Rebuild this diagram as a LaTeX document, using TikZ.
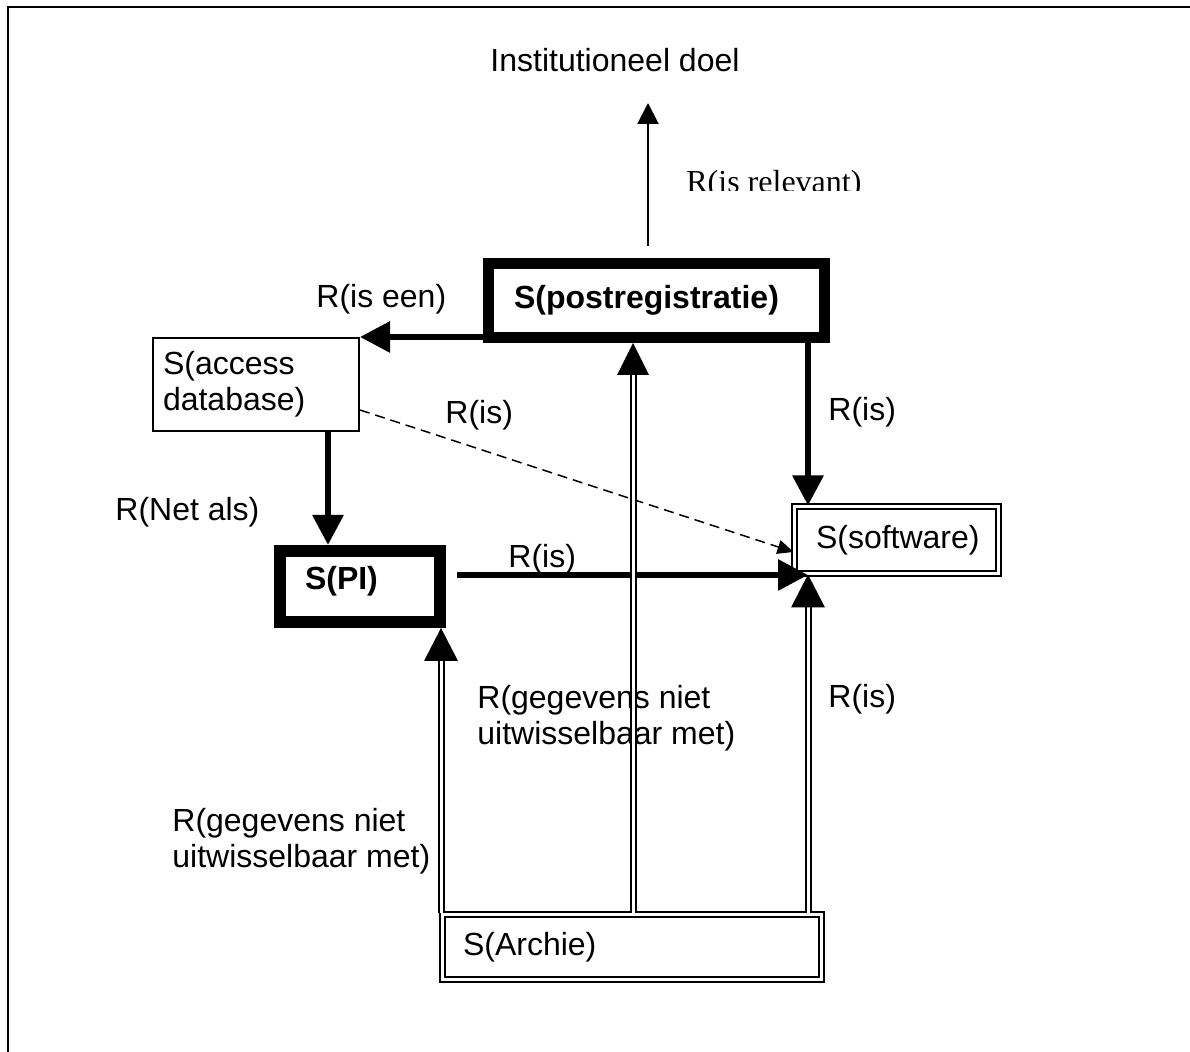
\documentclass[tikz,border=0pt]{standalone}
\usepackage{fontspec}
\setmainfont{Liberation Sans}
\newfontfamily\timesfam{Liberation Serif}
\usetikzlibrary{arrows.meta,calc}
\begin{document}
\begin{tikzpicture}[x=0.5pt,y=-0.5pt,
  every node/.style={font=\fontsize{16}{18}\selectfont, inner sep=0pt},
  heavybox/.style={draw, line width=5.5pt, align=left, font=\fontsize{16}{18}\selectfont\bfseries},
  plainbox/.style={draw, line width=1pt, align=left},
  dblbox/.style={draw, line width=1pt, double, double distance=1.5pt, align=left},
  lbl/.style={anchor=base west, align=left},
  thinarrow/.style={line width=1pt, -{Triangle[length=10.5pt,width=10.5pt]}},
  heavyarrow/.style={line width=3pt, -{Triangle[length=15pt,width=15pt]}},
  dasharrow/.style={line width=0.75pt, dash pattern=on 5pt off 3pt, -{Triangle[length=8pt,width=7pt]}},
  dblshaft/.style={line width=1pt, double, double distance=1.5pt},
]
\useasboundingbox (0,0) rectangle (1190,1052);
% frame
\draw[line width=1.25pt] (8,1052) -- (8,7) -- (1190,7);

% boxes
\node[heavybox, minimum width=168pt, minimum height=37pt, text width=142.5pt, inner xsep=12.75pt] (postreg) at (656.5,300.5) {S(postregistratie)};
\node[plainbox, minimum width=103pt, minimum height=46.5pt, text width=93pt, inner xsep=5pt] (access) at (256,384.5) {S(access\\database)};
\node[heavybox, line width=6pt, minimum width=80pt, minimum height=35.5pt, text width=55pt, inner xsep=12.5pt, text depth=9pt] (pi) at (360,586.5) {S(PI)};
\node[dblbox, minimum width=102pt, minimum height=33.5pt, text width=80.5pt, inner xsep=10.75pt] (software) at (896.5,540) {\mbox{S(software)}};
\node[dblbox, minimum width=189.5pt, minimum height=32.5pt, text width=169pt, inner xsep=10.25pt] (archie) at (632,947) {S(Archie)};

% labels
\node[anchor=base] (doel) at (615,72) {Institutioneel doel};
\begin{scope}
  \clip (680,150) rectangle (900,191);
  \node[anchor=base west, font=\fontsize{16}{18}\selectfont\timesfam] (rel) at (686,193) {R(is relevant)};
\end{scope}
\node[lbl] (lisen) at (316,308) {R(is een)};
\node[lbl] (lisd) at (445,424) {R(is)};
\node[lbl] (lisr) at (828,421) {R(is)};
\node[lbl] (lnet) at (115,521) {R(Net als)};
\node[lbl] (lish) at (508,568) {R(is)};
\node[anchor=west, align=left] (lgeg1) at (477,718) {R(gegevens niet\\uitwisselbaar met)};
\node[lbl] (lisb) at (828,708) {R(is)};
\node[anchor=west, align=left] (lgeg2) at (172,841) {R(gegevens niet\\uitwisselbaar met)};

% helper coordinates
\coordinate (lx) at (441,0);
\coordinate (mx) at (633,0);
\coordinate (rx) at (808,0);
\coordinate (ax) at (328,0);
\coordinate (hy) at (0,575);
\coordinate (dy1) at (0,410);
\coordinate (dy2) at (0,552);
\coordinate (relbot) at (648,246);
\coordinate (reltop) at (648,103);

% connectors
\draw[thinarrow] (relbot) -- (reltop);
\draw[heavyarrow] (postreg.west |- access.north east) -- (access.north east);
\draw[heavyarrow] (access.south -| ax) -- (pi.north -| ax);
\draw[heavyarrow] ($(pi.east |- hy)+(11,0)$) -- (rx |- hy);
\draw[heavyarrow] (postreg.south -| rx) -- (software.north -| rx);
\draw[dasharrow] (access.east |- dy1) -- (software.west |- dy2);

\coordinate (tipL) at (pi.south -| lx);
\coordinate (tipM) at (postreg.south -| mx);
\coordinate (tipR) at (software.south -| rx);
\draw[dblshaft] (archie.north -| lx) -- ($(tipL)+(0,30)$);
\draw[dblshaft] (archie.north -| mx) -- ($(tipM)+(0,30)$);
\draw[dblshaft] (archie.north -| rx) -- ($(tipR)+(0,30)$);
\fill (tipL) -- ++(-17,33) -- ++(34,0) -- cycle;
\fill (tipM) -- ++(-16,32) -- ++(32,0) -- cycle;
\fill (tipR) -- ++(-17,33) -- ++(34,0) -- cycle;
\end{tikzpicture}
\end{document}
